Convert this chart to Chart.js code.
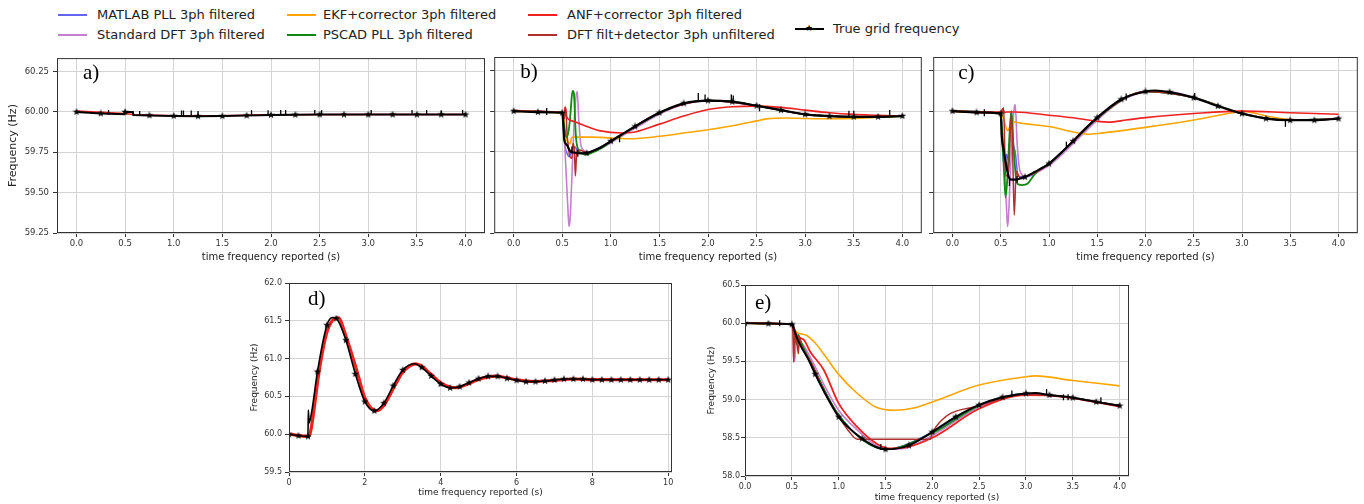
<!DOCTYPE html>
<html>
<head>
<meta charset="utf-8">
<script src="https://cdn.jsdelivr.net/npm/chart.js@4.4.1/dist/chart.umd.min.js"></script>
<style>
  html, body { margin: 0; padding: 0; background: #fff; }
  body { position: relative; width: 1364px; height: 504px; overflow: hidden; font-family: "DejaVu Sans", sans-serif; }
  .panel { position: absolute; }
  .leg { position: absolute; font-size: 13px; color: #222; white-space: nowrap; line-height: 16px; }
  .hnd { position: absolute; height: 2px; }
  .star { position: absolute; font-size: 9px; line-height: 9px; color: #000; }
</style>
</head>
<body>
<div id="legend"></div>
<div class="panel" style="left:0px;top:49px;width:491px;height:218px"><canvas id="ca"></canvas></div>
<div class="panel" style="left:488px;top:49px;width:440px;height:218px"><canvas id="cb"></canvas></div>
<div class="panel" style="left:927px;top:49px;width:437px;height:218px"><canvas id="cc"></canvas></div>
<div class="panel" style="left:245px;top:275px;width:434px;height:227px"><canvas id="cd"></canvas></div>
<div class="panel" style="left:700px;top:277px;width:436px;height:229px"><canvas id="ce"></canvas></div>
<script>
// series names / colours (legend order)
const seriesNames = ['MATLAB PLL 3ph filtered', 'Standard DFT 3ph filtered', 'EKF+corrector 3ph filtered',
  'PSCAD PLL 3ph filtered', 'ANF+corrector 3ph filtered', 'DFT filt+detector 3ph unfiltered', 'True grid frequency'];
const seriesColors = ['#6464f0', '#c57fcf', '#ffa500', '#118811', '#f02020', '#b03030', '#000000'];

// tick labels
const xTicksABC = [0, 0.5, 1, 1.5, 2, 2.5, 3, 3.5, 4];
const yTicksABC = [59.25, 59.5, 59.75, 60, 60.25];
const xTicksD = [0, 2, 4, 6, 8, 10];
const yTicksD = [59.5, 60, 60.5, 61, 61.5, 62];
const xTicksE = [0, 0.5, 1, 1.5, 2, 2.5, 3, 3.5, 4];
const yTicksE = [58, 58.5, 59, 59.5, 60, 60.5];

// ---- panel a)
const tTrueA = [0, 0.25, 0.495, 0.5, 0.58, 0.585, 0.75, 1.0, 1.25, 1.5, 1.75, 2.0, 2.25, 2.5, 2.75, 3.0, 3.25, 3.5, 3.75, 4.0];
const fTrueA = [60.0, 59.99, 59.985, 60.0, 60.0, 59.98, 59.978, 59.975, 59.973, 59.974, 59.977, 59.981, 59.982, 59.983, 59.983, 59.983, 59.983, 59.983, 59.983, 59.983];
const tAnfA = [0, 0.5, 0.6, 1.0, 1.5, 2.0, 3.0, 4.0];
const fAnfA = [60.006, 59.99, 59.982, 59.976, 59.976, 59.982, 59.984, 59.984];
const tMarkA = [0.33, 0.65, 1.08, 1.1, 1.18, 1.25, 1.8, 1.97, 2.1, 2.15, 2.45, 2.52, 3.03, 3.45, 3.6, 3.75, 3.97];
const fMarkA = [59.997, 59.99, 59.993, 59.993, 59.993, 59.99, 59.995, 59.995, 59.996, 59.996, 59.996, 59.995, 59.996, 59.996, 59.996, 59.995, 59.996];

// ---- panel b)
const tTrueB = [0, 0.25, 0.5, 0.51, 0.52, 0.55, 0.58, 0.62, 0.7, 0.75, 0.8, 0.9, 1.0, 1.25, 1.5, 1.75, 2.0, 2.25, 2.5, 2.75, 3.0, 3.25, 3.5, 3.75, 4.0];
const fTrueB = [60.0, 59.994, 59.99, 59.93, 59.83, 59.79, 59.755, 59.745, 59.74, 59.742, 59.752, 59.778, 59.815, 59.906, 59.99, 60.048, 60.065, 60.058, 60.033, 60.006, 59.98, 59.969, 59.965, 59.965, 59.97];
const tMarkB = [0.34, 0.6, 0.66, 1.09, 1.9, 1.97, 2.24, 2.26, 2.53, 3.45, 3.5, 3.87];
const fMarkB = [59.998, 59.76, 59.74, 59.83, 60.09, 60.08, 60.08, 60.075, 60.02, 59.98, 59.98, 59.985];
const tAnfB = [0, 0.25, 0.5, 0.52, 0.53, 0.55, 0.6, 0.68, 0.88, 1.12, 1.25, 1.5, 1.75, 2.0, 2.25, 2.5, 2.75, 3.0, 3.25, 3.5, 3.75, 4.0];
const fAnfB = [60.005, 59.997, 59.99, 59.98, 60.025, 59.96, 59.94, 59.923, 59.88, 59.865, 59.872, 59.92, 59.97, 60.01, 60.027, 60.031, 60.023, 60.006, 59.99, 59.98, 59.975, 59.97];
const tEkfB = [0, 0.25, 0.5, 0.52, 0.55, 0.58, 0.6, 0.8, 1.0, 1.2, 1.5, 1.75, 2.0, 2.25, 2.5, 2.6, 2.8, 3.0, 3.25, 3.5, 3.75, 4.0];
const fEkfB = [60.0, 59.994, 59.99, 59.93, 59.82, 59.8, 59.84, 59.84, 59.835, 59.83, 59.845, 59.865, 59.885, 59.91, 59.94, 59.952, 59.958, 59.955, 59.953, 59.955, 59.962, 59.969];
const tPscadB = [0, 0.5, 0.52, 0.54, 0.56, 0.58, 0.6, 0.61, 0.62, 0.64, 0.66, 0.7, 0.75, 0.8, 0.9, 1.0, 1.25, 1.5, 1.75, 2.0, 2.25, 2.5, 2.75, 3.0, 3.25, 3.5, 3.75, 4.0];
const fPscadB = [60.0, 59.99, 59.9, 59.84, 59.86, 59.95, 60.1, 60.125, 60.11, 59.85, 59.77, 59.74, 59.732, 59.742, 59.772, 59.812, 59.904, 59.988, 60.046, 60.064, 60.058, 60.033, 60.006, 59.98, 59.969, 59.965, 59.965, 59.97];
const tDftB = [0, 0.5, 0.52, 0.54, 0.56, 0.57, 0.58, 0.6, 0.62, 0.64, 0.655, 0.67, 0.69, 0.72, 0.75, 0.8, 0.9, 1.0, 1.25, 1.5, 1.75, 2.0, 2.25, 2.5, 2.75, 3.0, 3.25, 3.5, 3.75, 4.0];
const fDftB = [60.0, 59.99, 59.85, 59.62, 59.38, 59.29, 59.33, 59.6, 59.9, 60.08, 60.12, 59.95, 59.8, 59.76, 59.745, 59.748, 59.77, 59.805, 59.895, 59.98, 60.042, 60.063, 60.058, 60.034, 60.007, 59.981, 59.969, 59.965, 59.965, 59.97];
const tMatB = [0, 0.5, 0.51, 0.53, 0.55, 0.57, 0.6, 0.63, 0.66, 0.7, 0.8, 1.0, 1.5, 2.0, 2.5, 3.0, 3.5, 4.0];
const fMatB = [60.0, 59.99, 59.9, 59.78, 59.74, 59.72, 59.76, 59.78, 59.75, 59.742, 59.752, 59.815, 59.99, 60.065, 60.033, 59.98, 59.965, 59.97];
const tDetB = [0, 0.5, 0.52, 0.535, 0.55, 0.58, 0.6, 0.61, 0.625, 0.635, 0.65, 0.68, 0.75, 1.0, 1.5, 2.0, 2.5, 3.0, 3.5, 4.0];
const fDetB = [60.0, 59.99, 59.95, 60.025, 59.86, 59.72, 59.71, 59.8, 59.76, 59.6, 59.75, 59.76, 59.745, 59.815, 59.99, 60.065, 60.033, 59.98, 59.965, 59.97];

// ---- panel c)
const tTrueC = [0, 0.25, 0.5, 0.51, 0.53, 0.55, 0.58, 0.6, 0.65, 0.7, 0.75, 0.85, 1.0, 1.1, 1.25, 1.5, 1.75, 2.0, 2.1, 2.25, 2.5, 2.75, 3.0, 3.25, 3.5, 3.75, 4.0];
const fTrueC = [60.0, 59.992, 59.985, 59.85, 59.76, 59.69, 59.6, 59.58, 59.578, 59.585, 59.594, 59.625, 59.677, 59.73, 59.815, 59.96, 60.073, 60.121, 60.127, 60.117, 60.083, 60.031, 59.985, 59.954, 59.944, 59.944, 59.954];
const tMarkC = [0.33, 0.59, 0.67, 1.18, 1.8, 2.51, 3.45];
const fMarkC = [59.99, 59.56, 59.58, 59.79, 60.087, 60.09, 59.925];
const tAnfC = [0, 0.5, 0.52, 0.54, 0.56, 0.65, 1.0, 1.3, 1.5, 1.62, 1.8, 2.0, 2.5, 3.0, 3.5, 4.0];
const fAnfC = [60.0, 59.995, 60.015, 59.99, 59.995, 59.995, 59.975, 59.955, 59.937, 59.932, 59.945, 59.96, 59.985, 60.0, 59.99, 59.981];
const tEkfC = [0, 0.25, 0.5, 0.53, 0.57, 0.6, 0.63, 0.65, 1.0, 1.42, 1.5, 2.0, 2.5, 2.9, 3.0, 3.25, 3.5, 3.75, 4.0];
const fEkfC = [60.0, 59.992, 59.985, 59.95, 59.88, 59.91, 59.935, 59.932, 59.905, 59.858, 59.862, 59.9, 59.945, 59.99, 60.0, 59.97, 59.948, 59.946, 59.952];
const tDftC = [0, 0.5, 0.52, 0.54, 0.56, 0.57, 0.58, 0.6, 0.62, 0.64, 0.65, 0.67, 0.7, 0.75, 0.8, 1.0, 1.25, 1.5, 1.75, 2.0, 2.25, 2.5, 2.75, 3.0, 3.25, 3.5, 3.75, 4.0];
const fDftC = [60.0, 59.985, 59.85, 59.65, 59.4, 59.29, 59.35, 59.62, 59.88, 60.02, 60.04, 59.8, 59.63, 59.6, 59.605, 59.665, 59.8, 59.945, 60.063, 60.117, 60.117, 60.085, 60.034, 59.988, 59.955, 59.944, 59.944, 59.954];
const tPscadC = [0, 0.5, 0.52, 0.54, 0.55, 0.57, 0.59, 0.61, 0.63, 0.66, 0.68, 0.72, 0.78, 0.85, 0.9, 1.0, 1.5, 2.0, 2.5, 3.0, 3.5, 4.0];
const fPscadC = [60.0, 59.985, 59.8, 59.55, 59.47, 59.6, 59.85, 60.0, 59.8, 59.58, 59.55, 59.545, 59.555, 59.61, 59.64, 59.675, 59.958, 60.12, 60.083, 59.985, 59.944, 59.954];
const tMatC = [0, 0.5, 0.52, 0.54, 0.56, 0.58, 0.61, 0.63, 0.65, 0.68, 0.75, 1.0, 1.5, 2.0, 2.5, 3.0, 3.5, 4.0];
const fMatC = [60.0, 59.985, 59.75, 59.63, 59.735, 59.7, 60.0, 59.8, 59.75, 59.6, 59.595, 59.677, 59.96, 60.121, 60.083, 59.985, 59.944, 59.954];
const tDetC = [0, 0.5, 0.52, 0.53, 0.55, 0.58, 0.61, 0.625, 0.64, 0.66, 0.7, 0.75, 1.0, 1.5, 2.0, 2.5, 3.0, 3.5, 4.0];
const fDetC = [60.0, 59.985, 60.0, 60.02, 59.6, 59.62, 59.99, 59.7, 59.36, 59.63, 59.59, 59.594, 59.677, 59.96, 60.121, 60.083, 59.985, 59.944, 59.954];

// ---- panel d)
const tTrueD = [0, 0.25, 0.5, 0.51, 0.53, 0.6, 0.75, 1.0, 1.15, 1.25, 1.5, 1.75, 2.0, 2.25, 2.5, 2.75, 3.0, 3.3, 3.5, 3.75, 4.0, 4.25, 4.5, 4.75, 5.0, 5.25, 5.5, 5.75, 6.0, 6.25, 6.5, 6.75, 7.0, 7.25, 7.5, 7.75, 8.0, 8.25, 8.5, 8.75, 9.0, 9.25, 9.5, 9.75, 10.0];
const fTrueD = [60.0, 59.98, 59.97, 60.32, 60.15, 60.3, 60.827, 61.442, 61.543, 61.53, 61.244, 60.796, 60.431, 60.308, 60.41, 60.642, 60.849, 60.932, 60.884, 60.77, 60.664, 60.612, 60.629, 60.682, 60.735, 60.765, 60.765, 60.739, 60.713, 60.695, 60.695, 60.704, 60.717, 60.73, 60.73, 60.73, 60.721, 60.72, 60.72, 60.72, 60.72, 60.72, 60.72, 60.72, 60.72];
const tAnfD = [0, 0.5, 0.55, 0.6, 0.8, 1.0, 1.2, 1.3, 1.5, 1.8, 2.0, 2.3, 2.5, 2.8, 3.0, 3.35, 3.5, 3.75, 4.0, 4.4, 4.75, 5.0, 5.45, 5.75, 6.0, 6.45, 7.0, 7.5, 8.0, 10.0];
const fAnfD = [60.0, 59.97, 60.0, 60.12, 60.85, 61.35, 61.53, 61.54, 61.3, 60.82, 60.48, 60.31, 60.38, 60.65, 60.82, 60.93, 60.9, 60.79, 60.68, 60.615, 60.67, 60.725, 60.768, 60.745, 60.72, 60.697, 60.712, 60.73, 60.722, 60.72];

// ---- panel e)
const tTrueE = [0, 0.25, 0.5, 0.52, 0.55, 0.6, 0.68, 0.75, 0.85, 1.0, 1.1, 1.25, 1.4, 1.5, 1.6, 1.75, 2.0, 2.25, 2.5, 2.75, 3.0, 3.1, 3.25, 3.5, 3.75, 4.0];
const fTrueE = [60.0, 59.995, 59.985, 59.93, 59.823, 59.69, 59.517, 59.333, 59.09, 58.774, 58.64, 58.49, 58.38, 58.35, 58.355, 58.40, 58.577, 58.774, 58.93, 59.03, 59.08, 59.085, 59.06, 59.025, 58.97, 58.92];
const tMarkE = [0.37, 0.52, 1.45, 2.85, 3.22, 3.4, 3.45, 3.8];
const fMarkE = [60.0, 59.95, 58.38, 59.08, 59.1, 59.03, 59.03, 58.99];
const tAnfE = [0, 0.5, 0.55, 0.6, 0.63, 0.7, 0.84, 1.0, 1.2, 1.41, 1.55, 1.7, 2.0, 2.5, 3.0, 3.25, 3.5, 4.0];
const fAnfE = [60.0, 59.985, 59.85, 59.8, 59.78, 59.62, 59.39, 58.95, 58.64, 58.42, 58.36, 58.37, 58.5, 58.88, 59.06, 59.055, 59.02, 58.91];
const tEkfE = [0, 0.25, 0.5, 0.55, 0.6, 0.65, 0.75, 0.85, 1.0, 1.2, 1.4, 1.6, 1.8, 2.0, 2.5, 3.0, 3.1, 3.5, 4.0];
const fEkfE = [60.0, 59.995, 59.985, 59.88, 59.86, 59.845, 59.74, 59.58, 59.33, 59.08, 58.9, 58.86, 58.89, 58.97, 59.19, 59.3, 59.31, 59.25, 59.18];
const tDftE = [0, 0.5, 0.52, 0.53, 0.55, 0.58, 0.62, 0.7, 0.85, 1.0, 1.2, 1.4, 1.55, 1.7, 2.0, 2.5, 3.0, 3.5, 4.0];
const fDftE = [60.0, 59.985, 59.9, 59.5, 59.85, 59.78, 59.72, 59.55, 59.18, 58.86, 58.6, 58.4, 58.35, 58.36, 58.53, 58.9, 59.07, 59.02, 58.915];
const tPscadE = [0, 0.5, 0.53, 0.55, 0.57, 0.6, 0.7, 1.0, 1.5, 2.0, 2.5, 3.0, 3.5, 4.0];
const fPscadE = [60.0, 59.985, 59.85, 59.72, 59.85, 59.75, 59.5, 58.8, 58.35, 58.56, 58.92, 59.075, 59.025, 58.92];
const tMatE = [0, 0.5, 0.52, 0.55, 0.6, 0.7, 1.0, 1.5, 2.0, 2.5, 3.0, 3.5, 4.0];
const fMatE = [60.0, 59.985, 59.9, 59.8, 59.7, 59.48, 58.8, 58.35, 58.57, 58.93, 59.08, 59.025, 58.92];
const tDetE = [0, 0.5, 0.51, 0.52, 0.53, 0.55, 0.57, 0.58, 0.6, 0.7, 0.85, 1.0, 1.1, 1.2, 1.98, 2.0, 2.5, 3.0, 3.5, 4.0];
const fDetE = [60.0, 59.985, 59.9, 59.49, 59.9, 59.8, 59.6, 59.82, 59.72, 59.5, 59.1, 58.78, 58.6, 58.48, 58.48, 58.57, 58.92, 59.07, 59.02, 58.92];

// ---------------------------------------------------------------
// legend (html, four columns like the figure)
const legendSpots = [[58, 97, 15], [58, 97, 35], [287, 323, 15], [287, 323, 35], [528, 567, 15], [528, 567, 35], [795, 833, 29]];
const legendBox = document.getElementById('legend');
seriesNames.forEach((name, k) => {
  const [hx, tx, y] = legendSpots[k];
  const h = document.createElement('div');
  h.className = 'hnd';
  h.style.left = hx + 'px';
  h.style.top = (y - 1) + 'px';
  h.style.width = '29px';
  h.style.background = seriesColors[k];
  legendBox.appendChild(h);
  if (k === 6) {
    const s = document.createElement('div');
    s.className = 'star';
    s.textContent = '\u2605';
    s.style.left = (hx + 10) + 'px';
    s.style.top = (y - 5) + 'px';
    legendBox.appendChild(s);
  }
  const t = document.createElement('div');
  t.className = 'leg';
  t.textContent = name;
  t.style.left = tx + 'px';
  t.style.top = (y - 8) + 'px';
  legendBox.appendChild(t);
});

// star marker like matplotlib '*'
const starImg = document.createElement('canvas');
starImg.width = 8; starImg.height = 8;
const sc = starImg.getContext('2d');
sc.beginPath();
for (let k = 0; k < 10; k++) {
  const r = k % 2 ? 1.6 : 4;
  const a = -Math.PI / 2 + k * Math.PI / 5;
  sc.lineTo(4 + r * Math.cos(a), 4 + r * Math.sin(a));
}
sc.closePath();
sc.fillStyle = '#000';
sc.fill();

const isQuarter = x => Math.abs(x * 4 - Math.round(x * 4)) < 1e-9;
const pts = (t, f) => t.map((x, i) => ({ x: x, y: f[i] }));

function line(k, t, f, width) {
  return { label: seriesNames[k], data: pts(t, f), borderColor: seriesColors[k], backgroundColor: seriesColors[k],
    borderWidth: width, pointRadius: 0, fill: false };
}
function truth(t, f, width) {
  return { label: seriesNames[6], data: pts(t, f), borderColor: '#000', backgroundColor: '#000', borderWidth: width,
    pointStyle: starImg, pointRadius: c => (c.raw && isQuarter(c.raw.x)) ? 3 : 0, fill: false };
}
function marks(t, f, r) {
  return { label: 'marks', data: pts(t, f), showLine: false, pointStyle: 'line', rotation: 90, pointRadius: r,
    pointBorderColor: '#000', pointBorderWidth: 1.3, borderColor: '#000' };
}

// box round the plot + the panel letter
const framePlugin = {
  id: 'frame',
  afterDraw(chart, args, opts) {
    const { ctx, chartArea: a } = chart;
    ctx.save();
    ctx.strokeStyle = '#333';
    ctx.lineWidth = 1;
    ctx.strokeRect(a.left + 0.5, a.top + 0.5, a.width - 1, a.height - 1);
    ctx.fillStyle = '#000';
    ctx.font = '21px "Liberation Serif", "Times New Roman", serif';
    ctx.textBaseline = 'alphabetic';
    ctx.fillText(opts.label, a.left + opts.dx, a.top + opts.dy);
    ctx.restore();
  }
};

function makeChart(id, p) {
  new Chart(document.getElementById(id), {
    type: 'line',
    data: { datasets: p.datasets },
    options: {
      responsive: true,
      maintainAspectRatio: false,
      animation: false,
      events: [],
      layout: { padding: { left: 0, right: p.padR, top: 8, bottom: 0 } },
      elements: { line: { tension: 0, cubicInterpolationMode: p.mono ? 'monotone' : 'default' } },
      plugins: {
        legend: { display: false },
        tooltip: { enabled: false },
        frame: { label: p.label, dx: p.dx, dy: p.dy }
      },
      scales: {
        x: {
          type: 'linear', min: p.xMin, max: p.xMax,
          afterBuildTicks: s => { s.ticks = p.xTicks.map(v => ({ value: v })); },
          afterFit: s => { s.height = p.hx; },
          border: { display: false },
          grid: { color: '#d4d4d4', lineWidth: 1, tickColor: '#333', tickLength: 4, tickWidth: 1 },
          ticks: { color: '#333', font: { family: 'DejaVu Sans', size: p.tickSize }, padding: 2, maxRotation: 0,
            callback: v => v.toFixed(p.xDec) },
          title: { display: true, text: 'time frequency reported (s)', color: '#222',
            font: { family: 'DejaVu Sans', size: p.xtSize }, padding: { top: 0, bottom: p.xtPad } }
        },
        y: {
          min: p.yMin, max: p.yMax,
          afterBuildTicks: s => { s.ticks = p.yTicks.map(v => ({ value: v })); },
          afterFit: s => { s.width = p.wy; },
          border: { display: false },
          grid: { color: '#d4d4d4', lineWidth: 1, tickColor: '#333', tickLength: 4, tickWidth: 1 },
          ticks: { display: p.yLabels, color: '#333', font: { family: 'DejaVu Sans', size: p.tickSize }, padding: p.yPad,
            callback: v => v.toFixed(p.yDec) },
          title: { display: p.yLabels, text: 'Frequency (Hz)', color: '#222',
            font: { family: 'DejaVu Sans', size: p.ytSize }, padding: { top: p.ytPad, bottom: 0 } }
        }
      }
    },
    plugins: [framePlugin]
  });
}

const top3 = { xMin: -0.2, xMax: 4.2, yMin: 59.25, yMax: 60.333, xTicks: xTicksABC, yTicks: yTicksABC,
  xDec: 1, yDec: 2, hx: 34, tickSize: 8.5, xtSize: 10, xtPad: 4, ytSize: 11, ytPad: 6.4, yPad: 4 };

makeChart('ca', Object.assign({}, top3, {
  label: 'a)', dx: 26, dy: 21, padR: 4, wy: 57, yLabels: true, mono: false,
  datasets: [truth(tTrueA, fTrueA, 2), marks(tMarkA, fMarkA, 2.5), line(4, tAnfA, fAnfA, 1.5)]
}));

makeChart('cb', Object.assign({}, top3, {
  label: 'b)', dx: 26, dy: 21, padR: 4, wy: 6, yLabels: false, mono: true,
  datasets: [truth(tTrueB, fTrueB, 2.2), marks(tMarkB, fMarkB, 3.5),
    line(5, tDetB, fDetB, 1.5), line(4, tAnfB, fAnfB, 1.6), line(3, tPscadB, fPscadB, 1.8),
    line(2, tEkfB, fEkfB, 1.6), line(1, tDftB, fDftB, 1.6), line(0, tMatB, fMatB, 1.5)]
}));

makeChart('cc', Object.assign({}, top3, {
  label: 'c)', dx: 25, dy: 22, padR: 3, wy: 6, yLabels: false, mono: true,
  datasets: [truth(tTrueC, fTrueC, 2.2), marks(tMarkC, fMarkC, 3.5),
    line(5, tDetC, fDetC, 1.5), line(4, tAnfC, fAnfC, 1.6), line(3, tPscadC, fPscadC, 1.8),
    line(2, tEkfC, fEkfC, 1.6), line(1, tDftC, fDftC, 1.6), line(0, tMatC, fMatC, 1.5)]
}));

makeChart('cd', {
  label: 'd)', dx: 19, dy: 22, padR: 7, wy: 44, yLabels: true, mono: true,
  xMin: 0, xMax: 10.1, yMin: 59.5, yMax: 62, xTicks: xTicksD, yTicks: yTicksD, xDec: 0, yDec: 1,
  hx: 30, tickSize: 8, xtSize: 9, xtPad: 3.6, ytSize: 9, ytPad: 4.6, yPad: 3,
  datasets: [truth(tTrueD, fTrueD, 1.6), line(4, tAnfD, fAnfD, 3.2)]
});

makeChart('ce', {
  label: 'e)', dx: 10, dy: 24, padR: 7, wy: 45, yLabels: true, mono: true,
  xMin: 0, xMax: 4.1, yMin: 58, yMax: 60.5, xTicks: xTicksE, yTicks: yTicksE, xDec: 1, yDec: 1,
  hx: 30, tickSize: 8, xtSize: 9, xtPad: 2.9, ytSize: 9, ytPad: 6.3, yPad: 1,
  datasets: [truth(tTrueE, fTrueE, 2), marks(tMarkE, fMarkE, 3),
    line(5, tDetE, fDetE, 1.5), line(4, tAnfE, fAnfE, 1.8), line(3, tPscadE, fPscadE, 1.5),
    line(2, tEkfE, fEkfE, 1.6), line(1, tDftE, fDftE, 1.6), line(0, tMatE, fMatE, 1.5)]
});
</script>
</body>
</html>
